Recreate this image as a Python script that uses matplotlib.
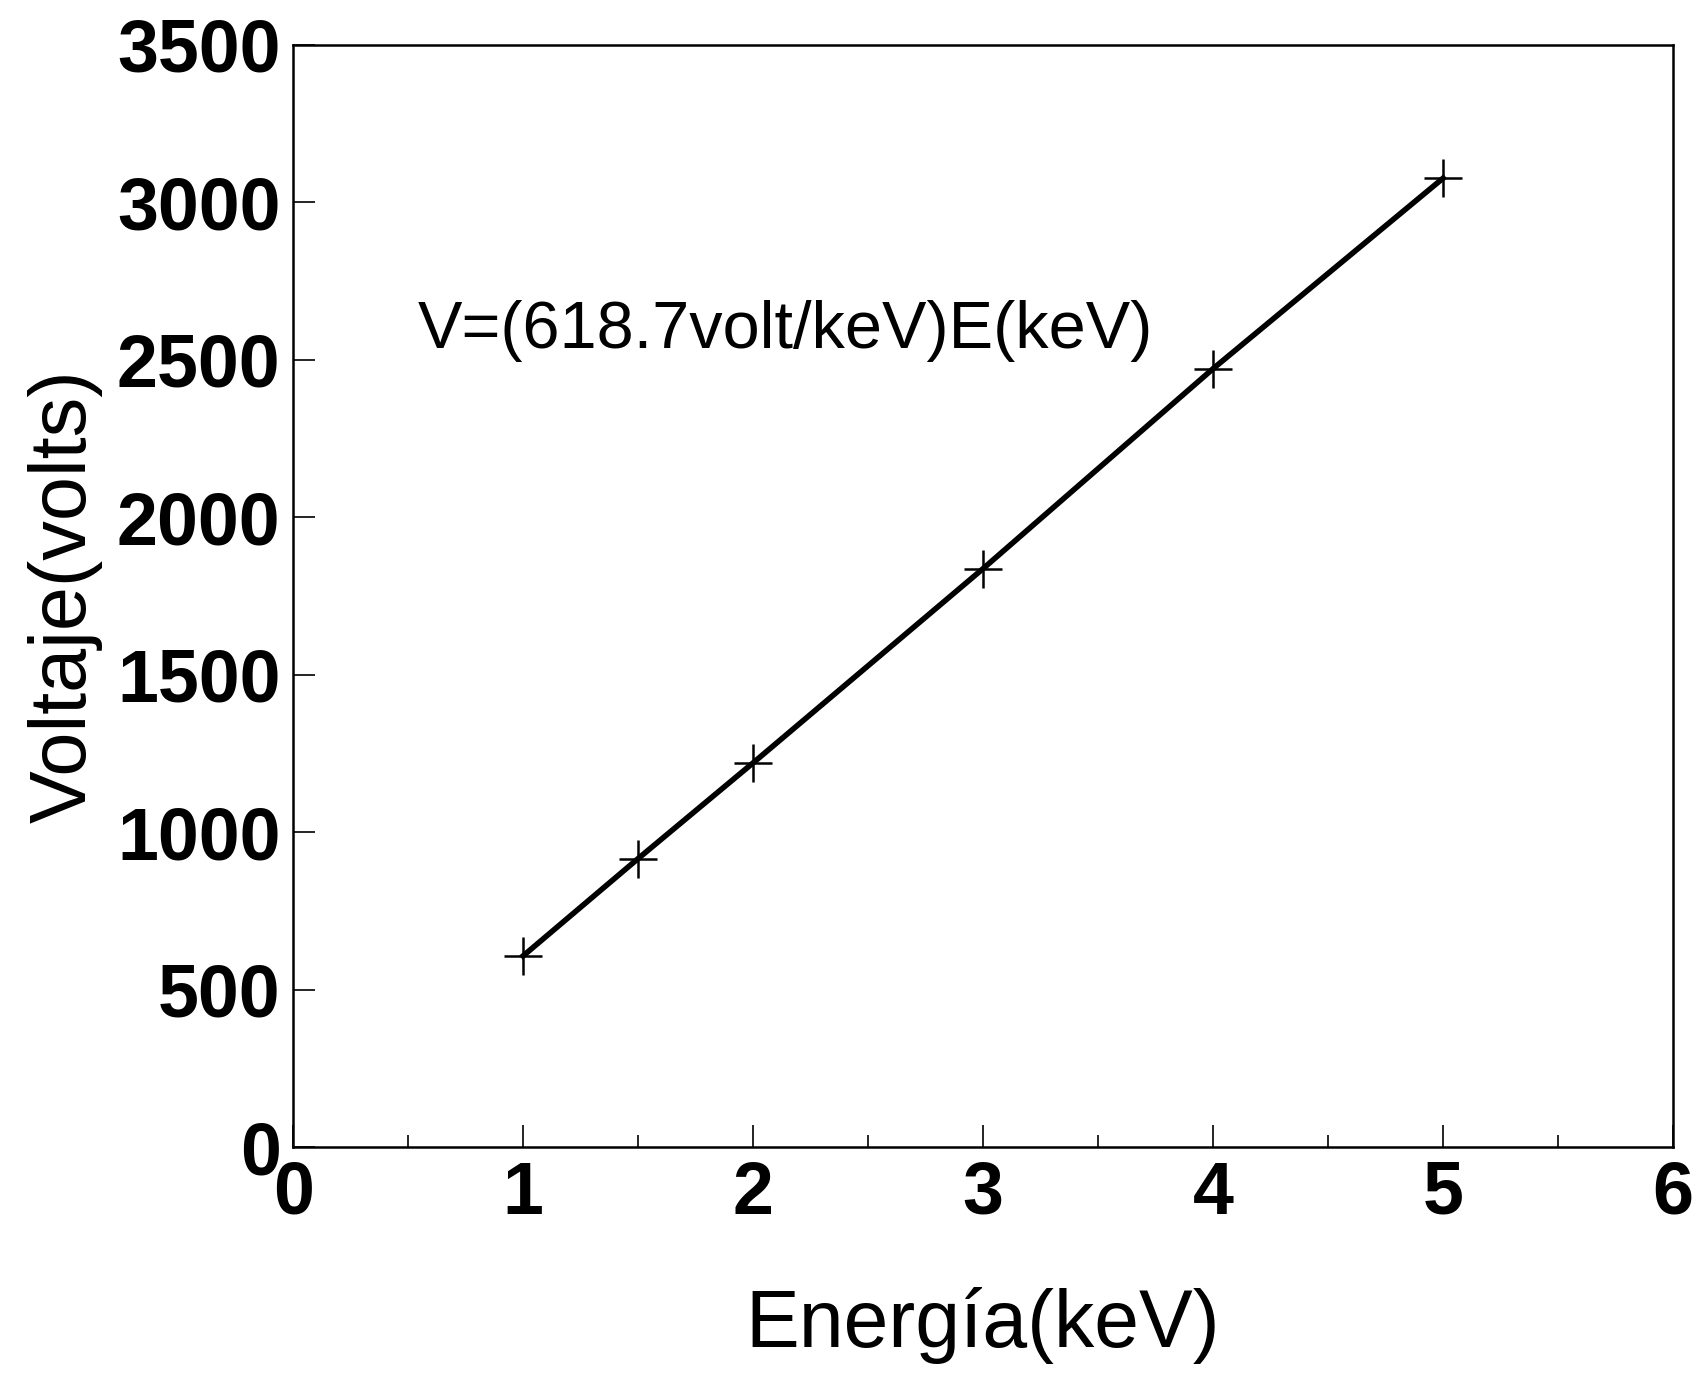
import matplotlib
matplotlib.use("Agg")
import matplotlib.pyplot as plt
from matplotlib.ticker import MultipleLocator

plt.rcParams['font.family'] = ['Liberation Sans', 'DejaVu Sans']

# Calibration points: photon energy vs. measured pulse voltage
energy_kev = [1.0, 1.5, 2.0, 3.0, 4.0, 5.0]
voltage_v = [607, 916, 1220, 1837, 2472, 3077]

x_ticks = [0, 1, 2, 3, 4, 5, 6]
y_ticks = [0, 500, 1000, 1500, 2000, 2500, 3000, 3500]

fit_label = "V=(618.7volt/keV)E(keV)"
x_title = "Energía(keV)"
y_title = "Voltaje(volts)"

fig = plt.figure(figsize=(17, 13.75), dpi=100)
ax = fig.add_axes([0.1724, 0.1658, 0.8118, 0.8015])

ax.plot(energy_kev, voltage_v, color='black', linewidth=4.0,
        marker='+', markersize=28, markeredgewidth=1.8)

ax.set_xlim(0, 6)
ax.set_ylim(0, 3500)
ax.set_xticks(x_ticks)
ax.set_yticks(y_ticks)
ax.xaxis.set_minor_locator(MultipleLocator(0.5))

for s in ax.spines.values():
    s.set_linewidth(1.8)

ax.tick_params(axis='both', which='both', direction='in', top=False, right=False)
ax.tick_params(axis='both', which='major', length=16, width=1.2, labelsize=53)
ax.tick_params(axis='y', which='major', pad=9)
ax.tick_params(axis='x', which='major', pad=9)
ax.tick_params(axis='x', which='minor', length=8.5, width=1.2)
for lbl in ax.get_xticklabels() + ax.get_yticklabels():
    lbl.set_fontweight('bold')

ax.set_xlabel(x_title, fontsize=58, labelpad=42)
ax.set_ylabel(y_title, fontsize=57, labelpad=10)

ax.text(0.54, 2537, fit_label, fontsize=48, ha='left', va='baseline')

fig.savefig("out.png", dpi=100)
